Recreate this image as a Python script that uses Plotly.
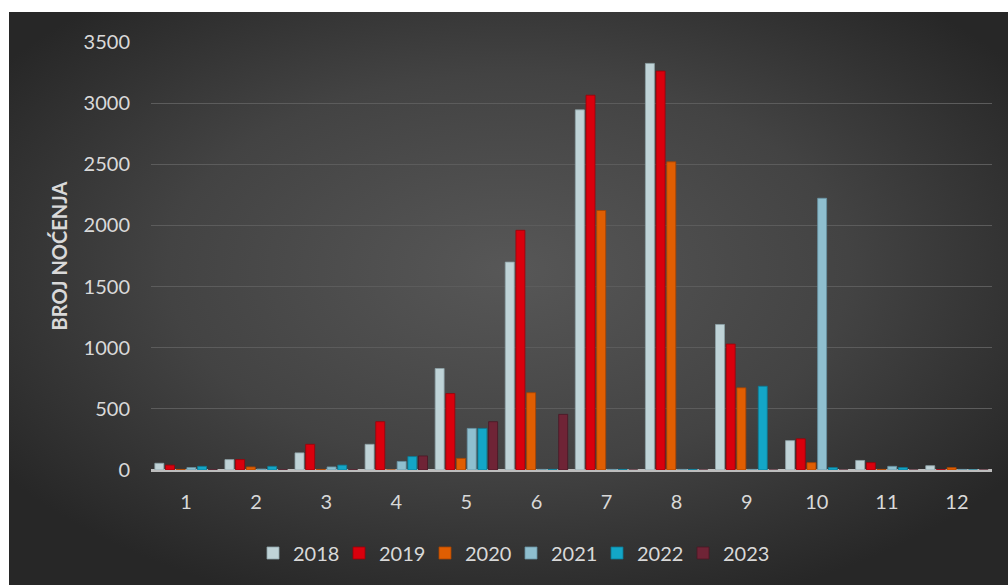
import base64
import plotly.graph_objects as go

months = ["1", "2", "3", "4", "5", "6", "7", "8", "9", "10", "11", "12"]
years = ["2018", "2019", "2020", "2021", "2022", "2023"]
y2018 = [55, 85, 140, 210, 830, 1700, 2945, 3325, 1190, 240, 78, 35]
y2019 = [40, 85, 210, 395, 625, 1960, 3065, 3262, 1030, 255, 60, 3]
y2020 = [5, 25, 5, 0, 95, 632, 2122, 2520, 672, 60, 5, 20]
y2021 = [20, 8, 25, 70, 340, 5, 5, 5, 5, 2222, 30, 5]
y2022 = [30, 30, 40, 110, 340, 5, 5, 5, 685, 20, 20, 0]
y2023 = [3, 3, 3, 115, 395, 455, 0, 0, 0, 0, 0, 0]
series = [y2018, y2019, y2020, y2021, y2022, y2023]
colors = ["#bfd3d7", "#d9000d", "#e05e02", "#8fbfcf", "#13a6c7", "#6f2436"]
edges = ["#8ea3a8", "#9a0009", "#a84400", "#6792a2", "#0b7a94", "#4a1724"]
y_ticks = [0, 500, 1000, 1500, 2000, 2500, 3000, 3500]

fig = go.Figure()
for name, vals, c, e in zip(years, series, colors, edges):
    fig.add_trace(go.Bar(
        x=months, y=vals, name=name,
        marker=dict(color=c, line=dict(color=e, width=0.8)),
    ))

svg = (
    '<svg xmlns="http://www.w3.org/2000/svg" width="999" height="573" '
    'viewBox="0 0 999 573" preserveAspectRatio="none">'
    '<defs><radialGradient id="g" cx="0.5" cy="0.45" r="0.62">'
    '<stop offset="0" stop-color="#575757"/>'
    '<stop offset="0.55" stop-color="#434343"/>'
    '<stop offset="1" stop-color="#272727"/>'
    '</radialGradient></defs>'
    '<rect width="999" height="573" fill="url(#g)"/></svg>'
)
src = "data:image/svg+xml;base64," + base64.b64encode(svg.encode()).decode()

L, R, T, B = 151, 992, 42, 470
W, H = R - L, B - T

fig.add_layout_image(dict(
    source=src, xref="paper", yref="paper",
    x=(9 - L) / W, y=(B - 12) / H,
    sizex=(1008 - 9) / W, sizey=(585 - 12) / H,
    xanchor="left", yanchor="top", sizing="stretch", layer="below",
))

font_txt = "Lato, 'Open Sans', sans-serif"
fig.update_layout(
    width=1008, height=585,
    margin=dict(l=L, r=1008 - R, t=T, b=585 - B),
    paper_bgcolor="white",
    plot_bgcolor="rgba(0,0,0,0)",
    barmode="group",
    bargap=0.085,
    bargroupgap=0.16,
    font=dict(family=font_txt, color="#d9d9d9", size=20),
    showlegend=True,
    legend=dict(
        orientation="h", x=(511 - L) / W, xanchor="center",
        y=(B - 553) / H, yanchor="middle",
        font=dict(size=20, color="#d9d9d9"),
        bgcolor="rgba(0,0,0,0)", itemwidth=30, tracegroupgap=0,
        entrywidth=41, entrywidthmode="pixels",
    ),
    xaxis=dict(
        showgrid=False, showline=False, ticks="",
        ticklabelstandoff=18,
        tickfont=dict(size=20, color="#d9d9d9"),
    ),
    yaxis=dict(
        range=[0, 3500], tickvals=y_ticks,
        showgrid=True, gridcolor="#5c5c5c", gridwidth=1,
        zeroline=True, zerolinecolor="#bdbdbd", zerolinewidth=3,
        ticks="", ticklabelstandoff=20,
        tickfont=dict(size=20, color="#d9d9d9"),
        title=dict(text="<b>BROJ NOĆENJA</b>", standoff=10,
                   font=dict(size=20, color="#d9d9d9")),
    ),
)

fig.write_html(
    "out.html",
    config={"displayModeBar": False},
    post_script="document.body.style.margin='0';document.body.style.overflow='hidden';",
)
